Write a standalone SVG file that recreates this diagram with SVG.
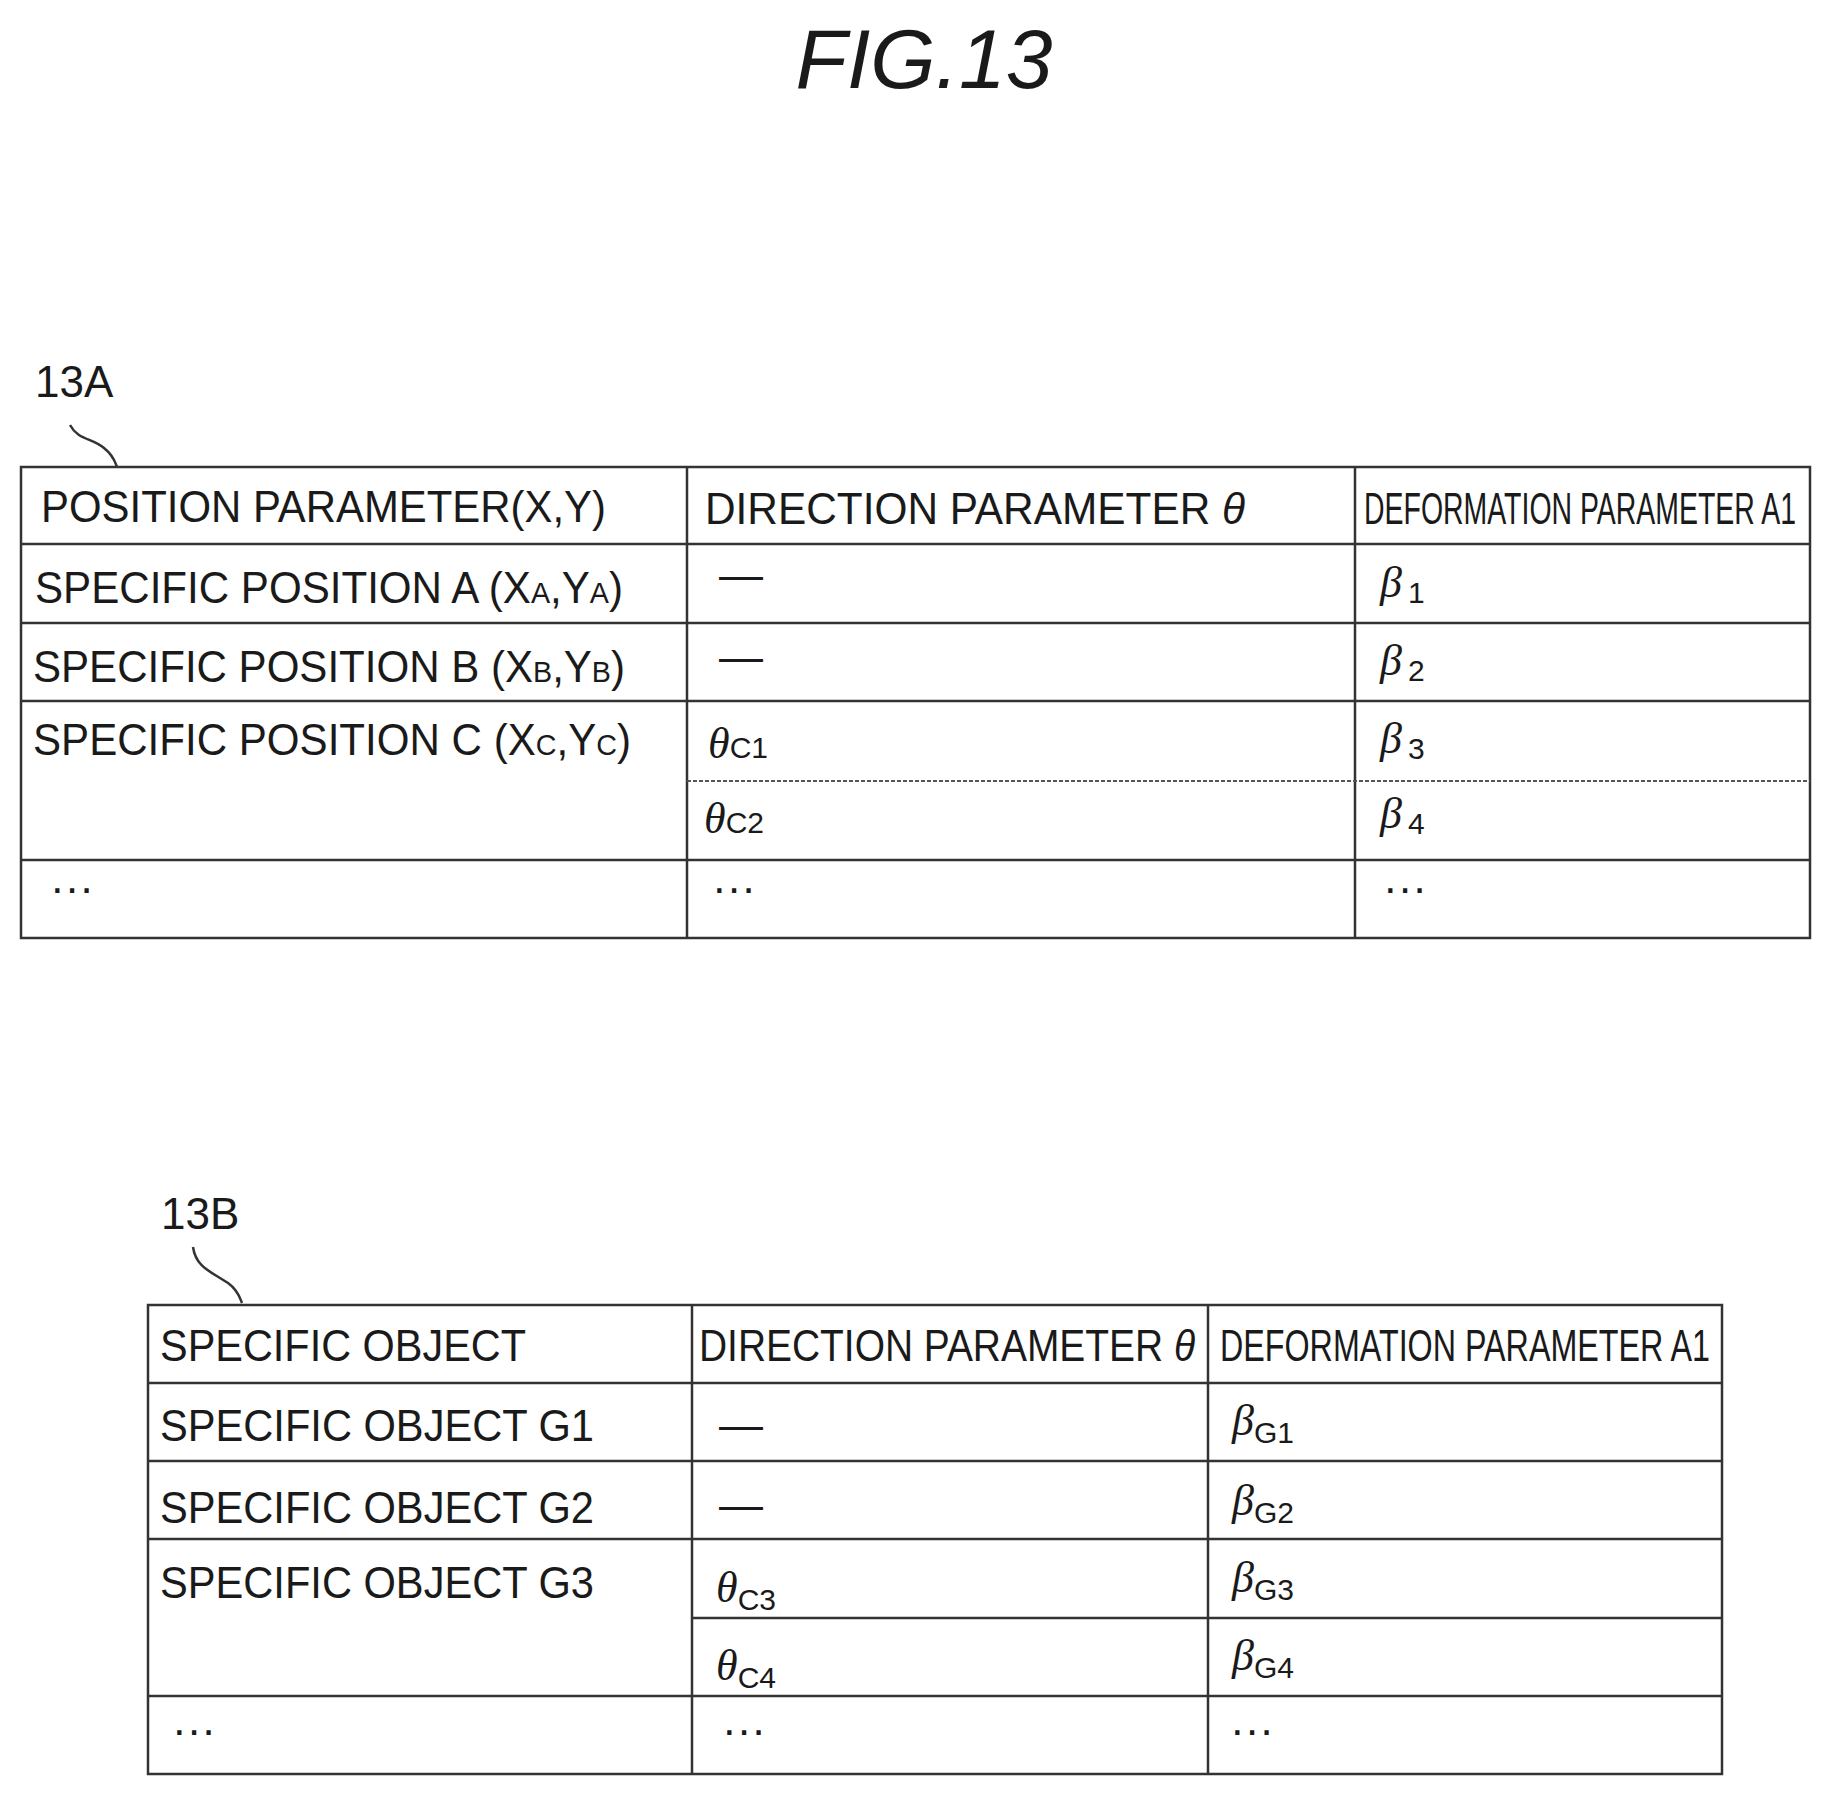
<svg xmlns="http://www.w3.org/2000/svg" width="1824" height="1794" viewBox="0 0 1824 1794">
<style>
.t{font-family:"Liberation Sans",Arial,sans-serif;fill:#1a1a1a}
.h{font-size:44px}
.c{font-size:44px}
.s{font-size:30px}
.ln{stroke:#333;stroke-width:2.5;fill:none}
.dl{stroke:#555;stroke-width:2;fill:none;stroke-dasharray:4,2}
.g{font-family:"Liberation Serif","DejaVu Serif",serif;font-style:italic;font-size:44px;fill:#1a1a1a}
</style>
<rect width="1824" height="1794" fill="#fff"/>
<text class="t" x="924" y="88" font-size="84" font-style="italic" text-anchor="middle">FIG.13</text>
<g id="label13A"><text class="t" x="35" y="397" font-size="44">13A</text></g>
<g id="label13B"><text class="t" x="161" y="1229" font-size="44">13B</text></g>
<g id="connectors">
<path class="ln" stroke-width="1.5" d="M70,425 C78,440 92,438 104,448 C114,456 115,462 117,467"/>
<path class="ln" stroke-width="1.5" d="M193,1247 C196,1268 212,1272 228,1283 C238,1290 240,1298 242,1303"/>
</g>
<g id="table13A">
<rect class="ln" x="21" y="467" width="1789" height="471"/>
<line class="ln" x1="687" y1="467" x2="687" y2="938"/>
<line class="ln" x1="1355" y1="467" x2="1355" y2="938"/>
<line class="ln" x1="21" y1="544" x2="1810" y2="544"/>
<line class="ln" x1="21" y1="623" x2="1810" y2="623"/>
<line class="ln" x1="21" y1="701" x2="1810" y2="701"/>
<line class="dl" x1="687" y1="781" x2="1810" y2="781"/>
<line class="ln" x1="21" y1="860" x2="1810" y2="860"/>
<text class="t h" x="41" y="522" textLength="565" lengthAdjust="spacingAndGlyphs">POSITION PARAMETER(X,Y)</text>
<text class="t h" x="705" y="524" textLength="540" lengthAdjust="spacingAndGlyphs">DIRECTION PARAMETER <tspan font-style="italic">θ</tspan></text>
<text class="t h" x="1364" y="524" textLength="432" lengthAdjust="spacingAndGlyphs">DEFORMATION PARAMETER A1</text>
<text class="t c" x="35" y="603" textLength="588" lengthAdjust="spacingAndGlyphs">SPECIFIC POSITION A (X<tspan class="s">A</tspan>,Y<tspan class="s">A</tspan>)</text>
<text class="t c" x="33" y="682" textLength="592" lengthAdjust="spacingAndGlyphs">SPECIFIC POSITION B (X<tspan class="s">B</tspan>,Y<tspan class="s">B</tspan>)</text>
<text class="t c" x="33" y="755" textLength="598" lengthAdjust="spacingAndGlyphs">SPECIFIC POSITION C (X<tspan class="s">C</tspan>,Y<tspan class="s">C</tspan>)</text>
<text class="t c" x="719" y="590">—</text>
<text class="t c" x="719" y="672" font-size="30">—</text>
<text class="g" x="708" y="758">θ<tspan class="t s" font-style="normal">C1</tspan></text>
<text class="g" x="704" y="833">θ<tspan class="t s" font-style="normal">C2</tspan></text>
<text class="g" x="1380" y="597">β<tspan class="t s" font-style="normal" dx="6" dy="6">1</tspan></text>
<text class="g" x="1380" y="675">β<tspan class="t s" font-style="normal" dx="6" dy="6">2</tspan></text>
<text class="g" x="1380" y="753">β<tspan class="t s" font-style="normal" dx="6" dy="6">3</tspan></text>
<text class="g" x="1380" y="828">β<tspan class="t s" font-style="normal" dx="6" dy="6">4</tspan></text>
<text class="t c" x="50" y="903">···</text>
<text class="t c" x="712" y="903">···</text>
<text class="t c" x="1383" y="903">···</text>
</g>
<g id="table13B">
<rect class="ln" x="148" y="1305" width="1574" height="469"/>
<line class="ln" x1="692" y1="1305" x2="692" y2="1774"/>
<line class="ln" x1="1208" y1="1305" x2="1208" y2="1774"/>
<line class="ln" x1="148" y1="1383" x2="1722" y2="1383"/>
<line class="ln" x1="148" y1="1461" x2="1722" y2="1461"/>
<line class="ln" x1="148" y1="1539" x2="1722" y2="1539"/>
<line class="ln" x1="692" y1="1618" x2="1722" y2="1618"/>
<line class="ln" x1="148" y1="1696" x2="1722" y2="1696"/>
<text class="t h" x="160" y="1361" textLength="366" lengthAdjust="spacingAndGlyphs">SPECIFIC OBJECT</text>
<text class="t h" x="699" y="1361" textLength="496" lengthAdjust="spacingAndGlyphs">DIRECTION PARAMETER <tspan font-style="italic">θ</tspan></text>
<text class="t h" x="1220" y="1361" textLength="490" lengthAdjust="spacingAndGlyphs">DEFORMATION PARAMETER A1</text>
<text class="t c" x="160" y="1441" textLength="434" lengthAdjust="spacingAndGlyphs">SPECIFIC OBJECT G1</text>
<text class="t c" x="160" y="1523" textLength="434" lengthAdjust="spacingAndGlyphs">SPECIFIC OBJECT G2</text>
<text class="t c" x="160" y="1598" textLength="434" lengthAdjust="spacingAndGlyphs">SPECIFIC OBJECT G3</text>
<text class="t c" x="719" y="1440">—</text>
<text class="t c" x="719" y="1520">—</text>
<text class="g" x="716" y="1602">θ<tspan class="t s" font-style="normal" dy="8">C3</tspan></text>
<text class="g" x="716" y="1680">θ<tspan class="t s" font-style="normal" dy="8">C4</tspan></text>
<text class="g" x="1232" y="1435">β<tspan class="t s" font-style="normal" dy="8">G1</tspan></text>
<text class="g" x="1232" y="1515">β<tspan class="t s" font-style="normal" dy="8">G2</tspan></text>
<text class="g" x="1232" y="1592">β<tspan class="t s" font-style="normal" dy="8">G3</tspan></text>
<text class="g" x="1232" y="1670">β<tspan class="t s" font-style="normal" dy="8">G4</tspan></text>
<text class="t c" x="172" y="1745">···</text>
<text class="t c" x="722" y="1745">···</text>
<text class="t c" x="1230" y="1745">···</text>
</g>
</svg>
